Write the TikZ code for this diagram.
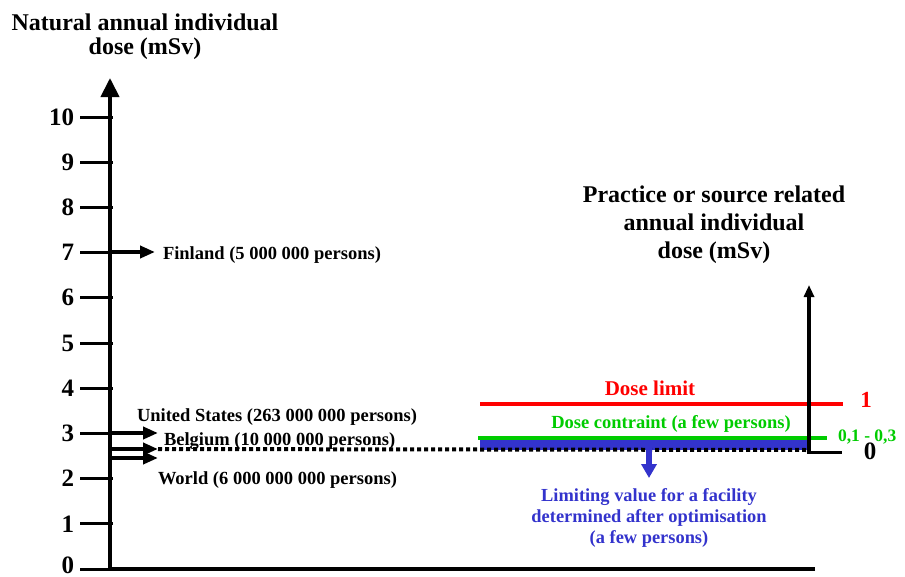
\documentclass[tikz,border=0pt]{standalone}
\usepackage{fontspec}
\setmainfont{Liberation Serif}
\usetikzlibrary{arrows.meta}
\definecolor{limred}{RGB}{255,0,0}
\definecolor{congreen}{RGB}{0,204,0}
\definecolor{optblue}{RGB}{51,51,204}

\begin{document}
\begin{tikzpicture}[x=1pt,y=-1pt,
  every node/.style={inner sep=0pt, outer sep=0pt},
  axisline/.style={line width=4pt},
  tickline/.style={line width=3pt},
  ticklabel/.style={font=\fontsize{25}{25}\selectfont\bfseries, anchor=east},
  titletext/.style={align=center, anchor=base},
  caption/.style={font=\fontsize{18.5}{21}\selectfont\bfseries, anchor=base west},
  countryarrow/.style={line width=4pt, -{Triangle[length=15pt,width=12pt]}},
  levelline/.style={line width=4pt}]

  \useasboundingbox (0,0) rectangle (905,576);

  % ---- natural dose axis ----
  \coordinate (origin) at (110,569);
  \coordinate (ytop) at (110,78);
  \coordinate (xend) at (815,569);
  \draw[axisline, -{Triangle[length=19pt,width=18pt]}] (xend) -- (origin) -- (ytop);
  \draw[tickline] (80,569) -- (origin);
  \node[ticklabel] (t0) at (74,565) {0};
  \foreach \v in {1,...,10}{
    \draw[tickline] (80,569-45.2*\v) -- (113,569-45.2*\v);
    \node[ticklabel] (t\v) at (74,569-45.2*\v) {\v};
  }

  % multi-line titles are placed by the baseline of their last line
  \node[titletext, font=\fontsize{24}{24}\selectfont\bfseries] (lefttitle) at (145,54)
    {Natural annual individual\\dose (mSv)};

  % ---- countries ----
  \coordinate (fin0) at (110,252);  \coordinate (fin1) at (155,252);
  \coordinate (us0)  at (110,433);  \coordinate (us1)  at (158,433);
  \coordinate (be0)  at (110,449);  \coordinate (be1)  at (158,449);
  \coordinate (wo0)  at (110,458);  \coordinate (wo1)  at (158,458);
  \draw[countryarrow] (fin0) -- (fin1);
  \draw[countryarrow] (us0) -- (us1);
  \draw[countryarrow] (be0) -- (be1);
  \draw[countryarrow] (wo0) -- (wo1);

  \node[caption] (finland) at (163,259) {Finland (5 000 000 persons)};
  \node[caption] (usa) at (137,421) {United States (263 000 000 persons)};
  \node[caption] (belgium) at (164,445) {Belgium (10 000 000 persons)};
  \node[caption] (world) at (158,484) {World (6 000 000 000 persons)};

  % ---- practice related dose ----
  \coordinate (rorigin) at (809,452);
  \coordinate (rtop) at (809,285);
  \coordinate (rtick) at (842,452);

  \fill[optblue] (480,440) rectangle (810,450);
  \draw[line width=4pt, dash pattern=on 4pt off 3pt] (be1) -- (810,450);
  \draw[limred, levelline] (480,404) -- (843,404);
  \draw[congreen, levelline] (478,438) -- (827,438);

  \draw[line width=3.5pt, -{Triangle[length=12pt,width=10pt]}] (rorigin) -- (rtop);
  \draw[line width=3pt] (807,452) -- (rtick);

  \node[titletext, font=\fontsize{24}{28}\selectfont\bfseries] (righttitle) at (714,258)
    {Practice or source related\\annual individual\\dose (mSv)};

  \node[font=\fontsize{21}{21}\selectfont\bfseries, text=limred, anchor=base] (limit) at (650,395) {Dose limit};
  \node[font=\fontsize{23}{23}\selectfont\bfseries, text=limred, anchor=base] (one) at (866,407) {1};
  \node[font=\fontsize{18.5}{21}\selectfont\bfseries, text=congreen, anchor=base] (constraint) at (671,428) {Dose contraint (a few persons)};
  \node[font=\fontsize{17.5}{17.5}\selectfont\bfseries, text=congreen, anchor=base west] (range) at (838,441) {0,1 - 0,3};
  \node[font=\fontsize{25}{25}\selectfont\bfseries, anchor=base] (zero) at (870,459) {0};

  \coordinate (opt0) at (649,445);
  \coordinate (opt1) at (649,478);
  \draw[optblue, line width=6pt, -{Triangle[length=14pt,width=15pt]}] (opt0) -- (opt1);
  \node[font=\fontsize{18.4}{21}\selectfont\bfseries, text=optblue, align=center, anchor=base] (optim) at (649,543)
    {Limiting value for a facility\\determined after optimisation\\(a few persons)};
\end{tikzpicture}
\end{document}
